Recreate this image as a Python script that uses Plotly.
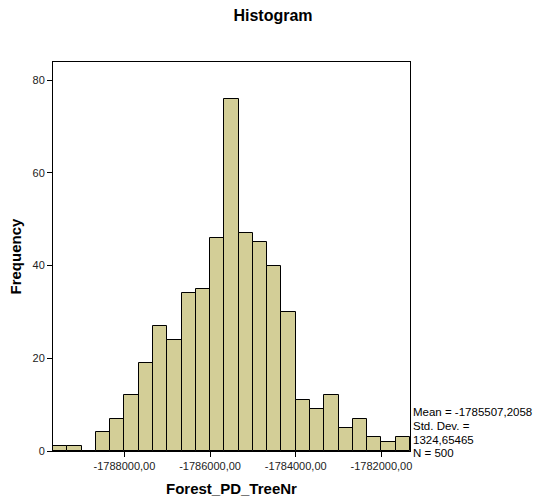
import plotly.graph_objects as go

# Histogram data (25 bins of width 2000/6, first edge at -1789666.67)
counts = [1, 1, 0, 4, 7, 12, 19, 27, 24, 34, 35, 46, 76, 47, 45, 40, 30, 11, 9, 12, 5, 7, 3, 2, 3]
bin_width = 2000.0 / 6.0
first_edge = -1788000.0 - 5 * bin_width
x_tick_vals = [-1788000, -1786000, -1784000, -1782000]
x_tick_text = ["-1788000,00", "-1786000,00", "-1784000,00", "-1782000,00"]
y_tick_vals = [0, 20, 40, 60, 80]
stats_lines = ["Mean = -1785507,2058", "Std. Dev. =", "1324,65465", "N = 500"]

centers = [first_edge + (i + 0.5) * bin_width for i in range(len(counts))]
last_edge = first_edge + len(counts) * bin_width

font_family = "Liberation Sans, Arial, sans-serif"

fig = go.Figure(go.Bar(
    x=centers, y=counts, width=bin_width,
    marker=dict(color="#D3CE97", line=dict(color="black", width=1)),
    hoverinfo="x+y",
))

fig.update_layout(
    width=540, height=501,
    margin=dict(l=53, r=130, t=62, b=50),
    paper_bgcolor="white", plot_bgcolor="white",
    showlegend=False,
    font=dict(family=font_family, size=11, color="#222"),
    title=dict(text="<b>Histogram</b>", x=273 / 540, xanchor="center", xref="container",
               y=1 - 15 / 501, yanchor="middle", yref="container",
               font=dict(size=16, color="black")),
    bargap=0,
)

fig.update_xaxes(
    range=[first_edge, last_edge],
    tickvals=x_tick_vals, ticktext=x_tick_text,
    ticks="outside", ticklen=5, tickcolor="black",
    showline=True, linecolor="black", linewidth=1, mirror=True,
    showgrid=False, zeroline=False,
    tickfont=dict(size=11, color="#222"),
)
fig.update_yaxes(
    range=[0, 83.9],
    tickvals=y_tick_vals,
    ticks="outside", ticklen=5, tickcolor="black",
    showline=True, linecolor="black", linewidth=1, mirror=True,
    showgrid=False, zeroline=False,
    tickfont=dict(size=11, color="#222"),
)

# Axis titles
fig.add_annotation(xref="paper", yref="paper", x=0.5, y=0, yshift=-37,
                   xanchor="center", yanchor="middle", showarrow=False,
                   text="<b>Forest_PD_TreeNr</b>", font=dict(size=15, color="black"))
fig.add_annotation(xref="paper", yref="paper", x=0, xshift=-38, y=0.5,
                   xanchor="center", yanchor="middle", showarrow=False, textangle=-90,
                   text="<b>Frequency</b>", font=dict(size=15, color="black"))

# Statistics box lines
shifts = [39, 25, 11, -2]
for line, s in zip(stats_lines, shifts):
    fig.add_annotation(
        xref="paper", yref="paper", x=1, y=0, xshift=1, yshift=s,
        xanchor="left", yanchor="middle",
        text=line, showarrow=False, align="left",
        font=dict(size=11.5, color="black"),
    )

fig.write_html("out.html")
